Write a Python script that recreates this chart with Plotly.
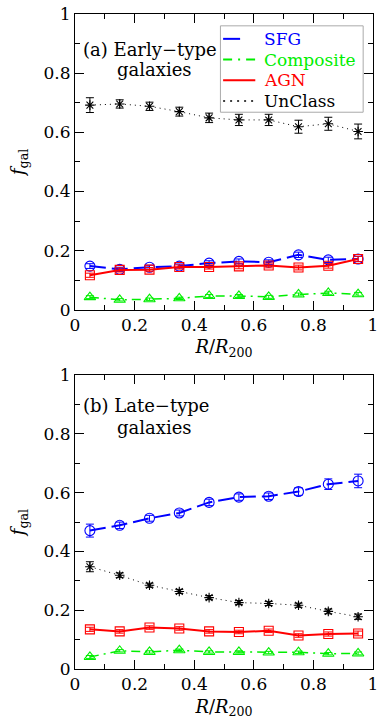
import plotly.graph_objects as go
from plotly.subplots import make_subplots

# bin centres in R/R200
r_bins = [0.05, 0.15, 0.25, 0.35, 0.45, 0.55, 0.65, 0.75, 0.85, 0.95]

# (a) early-type galaxies
early_sfg = [0.148, 0.137, 0.144, 0.148, 0.158, 0.164, 0.161, 0.186, 0.169, 0.172]
early_sfg_err = [0.008, 0.007, 0.007, 0.007, 0.008, 0.008, 0.008, 0.009, 0.009, 0.009]
early_comp = [0.043, 0.034, 0.036, 0.039, 0.047, 0.047, 0.044, 0.052, 0.057, 0.053]
early_comp_err = [0.005, 0.004, 0.004, 0.004, 0.005, 0.005, 0.005, 0.005, 0.006, 0.006]
early_agn = [0.117, 0.135, 0.136, 0.145, 0.145, 0.147, 0.150, 0.143, 0.149, 0.172]
early_agn_err = [0.007, 0.007, 0.007, 0.007, 0.007, 0.008, 0.008, 0.008, 0.008, 0.009]
early_unc = [0.692, 0.696, 0.688, 0.670, 0.649, 0.642, 0.642, 0.619, 0.629, 0.603]
early_unc_err = [0.025, 0.014, 0.014, 0.015, 0.016, 0.019, 0.019, 0.022, 0.022, 0.025]

# (b) late-type galaxies
late_sfg = [0.471, 0.489, 0.513, 0.531, 0.567, 0.585, 0.588, 0.604, 0.629, 0.640]
late_sfg_err = [0.022, 0.011, 0.010, 0.010, 0.011, 0.011, 0.011, 0.013, 0.018, 0.023]
late_comp = [0.041, 0.062, 0.058, 0.064, 0.058, 0.058, 0.056, 0.057, 0.052, 0.053]
late_comp_err = [0.005, 0.004, 0.004, 0.004, 0.004, 0.004, 0.004, 0.004, 0.004, 0.005]
late_agn = [0.135, 0.128, 0.141, 0.138, 0.128, 0.126, 0.130, 0.114, 0.119, 0.121]
late_agn_err = [0.007, 0.006, 0.006, 0.006, 0.006, 0.006, 0.006, 0.006, 0.007, 0.008]
late_unc = [0.348, 0.319, 0.285, 0.264, 0.243, 0.226, 0.223, 0.217, 0.196, 0.178]
late_unc_err = [0.017, 0.008, 0.007, 0.007, 0.007, 0.007, 0.007, 0.007, 0.008, 0.009]

tick_vals = [0, 0.2, 0.4, 0.6, 0.8, 1]
tick_text = ["0", "0.2", "0.4", "0.6", "0.8", "1"]
series_names = ["SFG", "Composite", "AGN", "UnClass"]

FONT = "DejaVu Serif"

styles = {
    "SFG": dict(color="#0000ff", dash="16px,6px", width=2, symbol="circle-open", size=10),
    "Composite": dict(color="#00ee00", dash="9px,5px,2px,5px", width=1.5, symbol="triangle-up-open", size=10),
    "AGN": dict(color="#ff0000", dash="solid", width=2, symbol="square-open", size=9),
    "UnClass": dict(color="#000000", dash="1px,4px", width=1, symbol="asterisk-open", size=8),
}
legend_dash = {"SFG": "17px,40px", "Composite": "9px,6px,2px,6px", "AGN": "solid", "UnClass": "2px,5px"}

panels = [
    (1, [(early_sfg, early_sfg_err), (early_comp, early_comp_err),
         (early_agn, early_agn_err), (early_unc, early_unc_err)]),
    (2, [(late_sfg, late_sfg_err), (late_comp, late_comp_err),
         (late_agn, late_agn_err), (late_unc, late_unc_err)]),
]

fig = make_subplots(rows=2, cols=1)

for row, series in panels:
    for name, (vals, errs) in zip(series_names, series):
        s = styles[name]
        fig.add_trace(go.Scatter(
            x=r_bins, y=vals, name=name, mode="lines+markers", showlegend=False,
            line=dict(color=s["color"], dash=s["dash"], width=s["width"]),
            marker=dict(symbol=s["symbol"], size=s["size"], color=s["color"],
                        line=dict(color=s["color"], width=1.1)),
            error_y=dict(type="data", array=errs, color=s["color"], thickness=1, width=4),
        ), row=row, col=1)

axis_common = dict(
    range=[0, 1], showline=True, linecolor="black", linewidth=1, mirror="allticks",
    ticks="inside", ticklen=9, tickwidth=1, tickcolor="black",
    tickvals=tick_vals, ticktext=tick_text, ticklabeloverflow="allow",
    minor=dict(tickvals=[0.1, 0.3, 0.5, 0.7, 0.9], ticks="inside", ticklen=5, tickcolor="black"),
    showgrid=False, zeroline=False,
    tickfont=dict(family=FONT, size=17, color="black"),
)

fig.update_xaxes(**axis_common)
fig.update_yaxes(**axis_common)
fig.update_xaxes(title=dict(text="<i>R</i>/<i>R</i><sub>200</sub>", standoff=6,
                            font=dict(family=FONT, size=18, color="black")))
fig.update_yaxes(title=dict(text="<i>f</i><sub>gal</sub>", standoff=14,
                            font=dict(family=FONT, size=18, color="black")))

fig.update_layout(
    yaxis=dict(domain=[0.5483, 1.0]),
    yaxis2=dict(domain=[0.0, 0.4486]),
)

ann_font = dict(family=FONT, size=18, color="black")
annotations = [
    ("x domain", "y domain", 0.020, 0.881, "(a) Early−type"),
    ("x domain", "y domain", 0.133, 0.812, "galaxies"),
    ("x2 domain", "y2 domain", 0.020, 0.896, "(b) Late−type"),
    ("x2 domain", "y2 domain", 0.133, 0.822, "galaxies"),
]
for xref, yref, ax, ay, txt in annotations:
    fig.add_annotation(xref=xref, yref=yref, x=ax, y=ay, text=txt, showarrow=False,
                       xanchor="left", yanchor="middle", font=ann_font)

# legend box in the top panel: line samples + coloured labels
fig.add_shape(type="rect", xref="x domain", yref="y domain", x0=0.488, x1=0.967, y0=0.668, y1=0.960,
              line=dict(color="#aaaaaa", width=1), fillcolor="white", layer="above")
row_y = [0.916, 0.846, 0.776, 0.706]
for name, ly in zip(series_names, row_y):
    s = styles[name]
    fig.add_shape(type="line", xref="x domain", yref="y domain", x0=0.497, x1=0.605, y0=ly, y1=ly,
                  line=dict(color=s["color"], dash=legend_dash[name], width=2 if name != "UnClass" else 1.5),
                  layer="above")
    fig.add_annotation(xref="x domain", yref="y domain", x=0.628, y=ly, text=name, showarrow=False,
                       xanchor="left", yanchor="middle",
                       font=dict(family=FONT, size=17, color=s["color"]))

fig.update_layout(
    width=382, height=723,
    margin=dict(l=75, r=4, t=7, b=54),
    plot_bgcolor="white", paper_bgcolor="white",
    font=dict(family=FONT, color="black"),
    showlegend=False,
)

fig.write_html("out.html", config={"displayModeBar": False},
               post_script="document.body.style.margin='0';document.body.style.overflow='hidden';")
